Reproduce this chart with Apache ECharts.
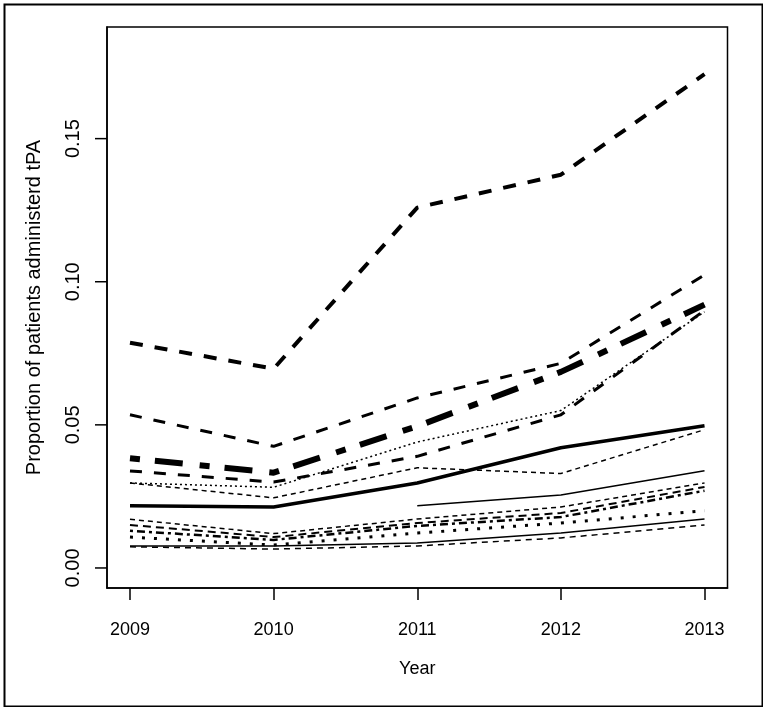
<!DOCTYPE html>
<html>
<head>
<meta charset="utf-8">
<script src="https://cdn.jsdelivr.net/npm/echarts@6/dist/echarts.min.js"></script>
<style>
html,body{margin:0;padding:0;background:#fff;}
#chart{width:763px;height:707px;}
</style>
</head>
<body>
<div id="chart"></div>
<script>
// ---- data ----
const years = [2009, 2010, 2011, 2012, 2013];
const yTicks = [0, 0.05, 0.10, 0.15];
const xTitle = 'Year';
const yTitle = 'Proportion of patients administerd tPA';

const L1 = [0.0787, 0.0696, 0.1259, 0.1374, 0.1725];
const L2 = [0.0535, 0.0425, 0.0594, 0.0715, 0.1024];
const L3 = [0.0383, 0.0333, 0.0495, 0.0685, 0.0920];
const L4 = [0.0339, 0.0300, 0.0390, 0.0535, 0.0900];
const L5 = [0.0297, 0.0282, 0.0440, 0.0550, 0.0895];
const L6 = [0.0217, 0.0213, 0.0297, 0.0420, 0.0497];
const L7 = [0.0297, 0.0245, 0.0350, 0.0330, 0.0483];
const L8 = [null, null, 0.0217, 0.0255, 0.0340];
const B1 = [0.0170, 0.0120, 0.0171, 0.0213, 0.0297];
const B2 = [0.0150, 0.0108, 0.0157, 0.0192, 0.0283];
const B3 = [0.0130, 0.0098, 0.0147, 0.0178, 0.0270];
const B4 = [0.0108, 0.0080, 0.0122, 0.0157, 0.0200];
const B5 = [0.0077, 0.0077, 0.0087, 0.0122, 0.0171];
const B6 = [0.0074, 0.0066, 0.0077, 0.0105, 0.0150];

// ---- styles ----
const seriesDefs = [
  {name:'L1', data:L1, width:4,   type:[13,12]},
  {name:'L2', data:L2, width:3,   type:[12,12]},
  {name:'L3', data:L3, width:6,   type:[10,15,28,17]},
  {name:'L4', data:L4, width:3,   type:[12,12]},
  {name:'L5', data:L5, width:1.5, type:[2,3]},
  {name:'L6', data:L6, width:3.5, type:'solid'},
  {name:'L7', data:L7, width:1.5, type:[5,4]},
  {name:'L8', data:L8, width:1.5, type:'solid'},
  {name:'B1', data:B1, width:1.5, type:[5,4]},
  {name:'B2', data:B2, width:2,   type:[8,5]},
  {name:'B3', data:B3, width:2.5, type:[3,4,8,4]},
  {name:'B4', data:B4, width:3,   type:[3,9]},
  {name:'B5', data:B5, width:1.5, type:'solid'},
  {name:'B6', data:B6, width:1.5, type:[6,5]}
];

const X_MIN = 2008.84, X_MAX = 2013.16, Y_MIN = -0.007, Y_MAX = 0.189;
const FONT = 'Liberation Sans, Arial, sans-serif';
const chart = echarts.init(document.getElementById('chart'), null, {renderer:'canvas'});

const lineSeries = seriesDefs.map(d => ({
  name:d.name, type:'line', symbol:'none', showSymbol:false,
  data: years.map((y,i)=>[y, d.data[i]]).filter(p=>p[1]!==null),
  lineStyle:{color:'#000', width:d.width, type:d.type, cap:'butt', join:'round'},
  emphasis:{disabled:true}
}));

const option = {
  animation: false,
  backgroundColor: '#fff',
  grid: {left:107, right:35.5, top:27, bottom:119, show:true, borderColor:'#000', borderWidth:1.5, backgroundColor:'transparent'},
  xAxis: {
    type:'value', min:X_MIN, max:X_MAX, position:'bottom',
    name:xTitle, nameLocation:'middle', nameGap:72,
    nameTextStyle:{fontFamily:FONT, fontSize:18, color:'#000'},
    axisLine:{show:true, onZero:false, lineStyle:{color:'#000', width:1.5}},
    splitLine:{show:false},
    axisTick:{show:true, inside:false, length:12, customValues:years, lineStyle:{color:'#000', width:1.5}},
    axisLabel:{show:true, customValues:years, margin:33, fontFamily:FONT, fontSize:18, color:'#000', formatter:v=>String(Math.round(v))}
  },
  yAxis: {
    type:'value', min:Y_MIN, max:Y_MAX, position:'left',
    name:yTitle, nameLocation:'middle', nameGap:63, nameRotate:90,
    nameTextStyle:{fontFamily:FONT, fontSize:20, color:'#000'},
    axisLine:{show:true, onZero:false, lineStyle:{color:'#000', width:1.5}},
    splitLine:{show:false},
    axisTick:{show:false},
    axisLabel:{show:true, customValues:yTicks, rotate:90, margin:24, fontFamily:FONT, fontSize:20, color:'#000', formatter:v=>v.toFixed(2)}
  },
  graphic: [{
    id:'frame', type:'rect', left:2, top:2, z:100, silent:true,
    shape:{width:758, height:702},
    style:{fill:'none', stroke:'#000', lineWidth:2}
  }],
  series: lineSeries
};
chart.setOption(option);

// y-axis tick marks: positions come from the chart's own y scale
const tickEls = yTicks.map((v, i) => {
  const p = chart.convertToPixel({gridIndex:0}, [X_MIN, v]);
  return {
    id:'ytick' + i, type:'line', z:100, silent:true,
    shape:{x1:p[0] - 12, y1:p[1], x2:p[0], y2:p[1]},
    style:{stroke:'#000', lineWidth:1.5}
  };
});
chart.setOption({graphic: tickEls});
</script>
</body>
</html>
